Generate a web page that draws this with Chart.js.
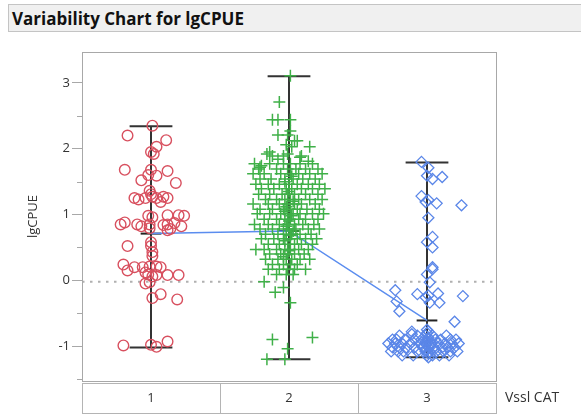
<!DOCTYPE html>
<html>
<head>
<meta charset="utf-8">
<script src="https://cdn.jsdelivr.net/npm/chart.js@4"></script>
<style>
  body { margin: 0; background: #fff; }
  #wrap { position: relative; width: 581px; height: 416px; }
  #head {
    position: absolute; left: 8px; top: 4px; width: 580px; height: 28px;
    background: #f0f0f0; border: 1px solid #c4c4c4; border-right: none;
    font: bold 17px "Open Sans", sans-serif; line-height: 27px;
    padding-left: 3px; box-sizing: border-box; color: #111; z-index: 2;
  }
  canvas { position: absolute; left: 0; top: 0; }
</style>
</head>
<body>
<div id="wrap">
  <div id="head">Variability Chart for lgCPUE</div>
  <canvas id="chart" width="581" height="416"></canvas>
</div>
<script>
// categories of Vssl CAT
const cats = [1, 2, 3]
const catLabels = ['1', '2', '3']
const yTicks = [-1, 0, 1, 2, 3]
const yMinor = [-1.5, -0.5, 0.5, 1.5, 2.5]

// summary
const means = [0.71, 0.75, -0.61]
const mins = [-1.02, -1.20, -1.17]
const maxs = [2.34, 3.10, 1.79]
const refLine = -0.02

// jittered points [x, lgCPUE]
const cat1 = [
  [1.01,2.35],[0.83,2.20],[1.11,2.13],[1.04,2.03],[1.00,1.95],[1.02,1.92],[0.81,1.68],[1.00,1.68],[1.12,1.66],
  [0.98,1.60],[1.04,1.59],[0.93,1.52],[1.18,1.48],[0.99,1.36],[1.00,1.31],[0.88,1.25],[0.91,1.23],[0.96,1.25],
  [1.01,1.27],[1.04,1.25],[1.09,1.27],[1.12,1.25],[1.07,1.19],[0.98,0.98],[1.01,0.96],[1.12,0.99],[1.20,0.99],
  [1.24,0.98],[0.81,0.88],[0.78,0.85],[0.90,0.85],[0.93,0.82],[0.99,0.85],[1.09,0.84],[1.12,0.85],[1.17,0.87],
  [1.22,0.82],[1.12,0.76],[1.14,0.78],[0.99,0.79],[0.83,0.52],[1.00,0.52],[1.00,0.58],[1.01,0.43],[1.01,0.37],
  [0.80,0.24],[0.83,0.15],[0.88,0.20],[0.94,0.20],[0.99,0.21],[1.04,0.21],[1.07,0.20],[0.96,0.12],[0.98,0.09],
  [1.01,0.06],[1.04,0.08],[1.12,0.08],[1.20,0.08],[0.96,-0.05],[0.99,-0.03],[1.07,-0.21],[1.01,-0.27],[1.19,-0.29],
  [0.80,-0.99],[1.00,-0.98],[1.04,-1.01],[1.12,-0.93]
]

const cat2 = [
  [2.01,3.11],[1.93,2.71],[1.88,2.44],[1.92,2.44],[2.01,2.44],[1.92,2.21],[1.99,2.21],[2.01,2.27],[2.04,2.12],
  [2.06,2.12],[2.15,2.03],[1.98,2.06],[2.02,2.03],[1.86,1.95],[1.84,1.92],[1.88,1.89],[1.96,1.89],[1.99,1.92],
  [2.08,1.87],[2.09,1.89],[1.92,1.84],[2.14,1.81],[1.80,1.74],[1.79,1.72],[2.01,1.77],
  [1.75,1.77],[1.86,1.77],[1.96,1.77],[2.08,1.77],[2.17,1.77],
  [1.78,1.69],[1.91,1.69],[1.99,1.69],[2.05,1.69],[2.12,1.69],[2.21,1.69],
  [1.74,1.62],[1.82,1.62],[1.94,1.62],[2.01,1.62],[2.07,1.62],[2.15,1.62],[2.24,1.62],
  [1.79,1.54],[1.87,1.54],[1.97,1.54],[2.03,1.54],[2.10,1.54],[2.19,1.54],
  [1.76,1.46],[1.85,1.46],[1.93,1.46],[2.00,1.46],[2.06,1.46],[2.14,1.46],[2.22,1.46],
  [1.80,1.39],[1.89,1.39],[1.98,1.39],[2.02,1.39],[2.09,1.39],[2.17,1.39],[2.26,1.39],
  [1.78,1.31],[1.86,1.31],[1.95,1.31],[1.99,1.31],[2.04,1.31],[2.12,1.31],[2.21,1.31],
  [1.83,1.23],[1.91,1.23],[1.97,1.23],[2.01,1.23],[2.07,1.23],[2.15,1.23],[2.24,1.23],
  [1.74,1.16],[1.85,1.16],[1.93,1.16],[1.99,1.16],[2.04,1.16],[2.09,1.16],[2.19,1.16],
  [1.79,1.08],[1.88,1.08],[1.96,1.08],[2.01,1.08],[2.06,1.08],[2.13,1.08],[2.22,1.08],
  [1.77,1.01],[1.86,1.01],[1.94,1.01],[1.99,1.01],[2.03,1.01],[2.08,1.01],[2.17,1.01],[2.25,1.01],
  [1.82,0.93],[1.91,0.93],[1.97,0.93],[2.01,0.93],[2.07,0.93],[2.12,0.93],[2.21,0.93],
  [1.75,0.85],[1.85,0.85],[1.93,0.85],[1.99,0.85],[2.04,0.85],[2.10,0.85],[2.18,0.85],
  [1.79,0.78],[1.88,0.78],[1.96,0.78],[2.00,0.78],[2.05,0.78],[2.14,0.78],[2.22,0.78],
  [1.83,0.70],[1.92,0.70],[1.98,0.70],[2.02,0.70],[2.08,0.70],[2.16,0.70],
  [1.80,0.63],[1.89,0.63],[1.96,0.63],[2.01,0.63],[2.06,0.63],[2.12,0.63],[2.20,0.63],
  [1.85,0.55],[1.93,0.55],[1.99,0.55],[2.04,0.55],[2.09,0.55],[2.17,0.55],
  [1.76,0.47],[1.82,0.47],[1.91,0.47],[1.97,0.47],[2.01,0.47],[2.07,0.47],[2.14,0.47],
  [1.86,0.40],[1.94,0.40],[1.99,0.40],[2.04,0.40],[2.11,0.40],
  [1.83,0.32],[1.92,0.32],[1.98,0.32],[2.02,0.32],[2.08,0.32],[2.15,0.32],
  [1.88,0.24],[1.96,0.24],[2.01,0.24],[2.06,0.24],
  [1.85,0.17],[1.93,0.17],[1.99,0.17],[2.04,0.17],[2.12,0.17],
  [1.91,0.09],[1.98,0.09],[2.03,0.09],
  [1.97,1.50],[2.00,1.35],[2.03,1.20],[1.97,1.05],[2.00,0.90],[2.03,0.75],[1.97,0.60],[2.00,0.45],
  [2.02,1.58],[1.98,1.12],[2.02,0.98],[1.98,0.82],[2.01,0.68],[1.96,0.36],
  [1.82,-0.02],[1.90,-0.18],[1.96,-0.11],[2.01,-0.34],[1.88,-0.90],[2.17,-0.87],[1.99,-1.04],[1.84,-1.20],[1.97,-1.20]
]

const cat3 = [
  [2.96,1.80],[3.01,1.71],[3.00,1.59],[3.04,1.54],[3.11,1.57],[2.96,1.28],[2.99,1.19],[3.01,1.22],[3.07,1.17],
  [3.25,1.14],[3.01,0.95],[3.00,0.58],[3.04,0.66],[3.04,0.50],[3.04,0.20],[3.00,0.09],[3.04,0.17],[3.02,-0.03],
  [2.77,-0.15],[2.78,-0.32],[2.80,-0.47],[2.93,-0.21],[2.99,-0.26],[3.01,-0.23],[3.08,-0.20],[3.09,-0.34],
  [3.02,-0.34],[3.26,-0.24],[3.20,-0.63],[2.89,-0.82],
  [2.89,-0.78],[3.01,-0.78],
  [2.80,-0.84],[2.93,-0.84],[2.99,-0.84],[3.04,-0.84],[3.14,-0.84],
  [2.75,-0.90],[2.78,-0.90],[2.84,-0.90],[2.91,-0.90],[2.96,-0.90],[3.01,-0.90],[3.06,-0.90],[3.10,-0.90],[3.17,-0.90],[3.21,-0.90],
  [2.72,-0.96],[2.77,-0.96],[2.82,-0.96],[2.88,-0.96],[2.95,-0.96],[2.99,-0.96],[3.03,-0.96],[3.08,-0.96],[3.13,-0.96],[3.18,-0.96],[3.23,-0.96],
  [2.75,-1.02],[2.80,-1.02],[2.85,-1.02],[2.91,-1.02],[2.97,-1.02],[3.01,-1.02],[3.05,-1.02],[3.11,-1.02],[3.15,-1.02],[3.20,-1.02],
  [2.74,-1.08],[2.79,-1.08],[2.83,-1.08],[2.93,-1.08],[2.99,-1.08],[3.02,-1.08],[3.07,-1.08],[3.12,-1.08],[3.17,-1.08],[3.22,-1.08],
  [2.82,-1.14],[2.90,-1.14],[3.00,-1.14],[3.04,-1.14],[3.09,-1.14],[3.16,-1.14],
  [3.01,-1.17],
  [3.00,-0.80],[3.01,-0.87],[2.99,-0.93],[3.02,-0.99],[2.99,-1.05],[3.01,-1.11],[3.00,-0.75],[3.03,-0.95],[2.97,-1.00],[3.04,-1.04]
]

const FONT = '"Open Sans", "DejaVu Sans", sans-serif'
const toXY = arr => arr.map(p => ({ x: p[0], y: p[1] }))

// short black segments for range bars and mean ticks
function seg(x1, y1, x2, y2, color, width) {
  return {
    type: 'line',
    data: [{ x: x1, y: y1 }, { x: x2, y: y2 }],
    borderColor: color,
    borderWidth: width,
    pointRadius: 0,
    fill: false
  }
}

const barSets = []
cats.forEach((c, i) => {
  barSets.push(seg(c, mins[i], c, maxs[i], '#333', 2))
  barSets.push(seg(c - 0.155, maxs[i], c + 0.155, maxs[i], '#333', 2))
  barSets.push(seg(c - 0.155, mins[i], c + 0.155, mins[i], '#333', 2))
  barSets.push(seg(c - 0.075, means[i], c + 0.075, means[i], '#222', 2))
})

const datasets = [
  {
    type: 'scatter', data: toXY(cat1), pointStyle: 'circle', pointRadius: 5.3,
    borderColor: '#d8505f', backgroundColor: 'rgba(0,0,0,0)', borderWidth: 1.4
  },
  {
    type: 'scatter', data: toXY(cat2), pointStyle: 'cross', pointRadius: 6,
    borderColor: '#3fb048', backgroundColor: '#3fb048', borderWidth: 1.5
  },
  {
    type: 'scatter', data: toXY(cat3), pointStyle: 'rectRot', pointRadius: 5.5,
    borderColor: '#5a86e8', backgroundColor: 'rgba(0,0,0,0)', borderWidth: 1.3
  },
  {
    type: 'line', data: cats.map((c, i) => ({ x: c, y: means[i] })),
    borderColor: '#5b8def', borderWidth: 1.5, pointRadius: 0, fill: false
  },
  ...barSets,
  {
    type: 'line', data: [{ x: 0.5, y: refLine }, { x: 3.5, y: refLine }],
    borderColor: '#b0b0b0', borderWidth: 2, borderDash: [2.5, 5.5], pointRadius: 0
  }
]

// frame, minor ticks and the category table under the plot
const framePlugin = {
  id: 'frame',
  afterDraw(chart) {
    const { ctx, chartArea: a, scales } = chart
    const xs = scales.x, ys = scales.y
    ctx.save()
    ctx.strokeStyle = '#a8a8a8'
    ctx.lineWidth = 1
    ctx.strokeRect(a.left + 0.5, a.top + 0.5, a.right - a.left, a.bottom - a.top)

    yMinor.forEach(v => {
      const py = Math.round(ys.getPixelForValue(v)) + 0.5
      ctx.beginPath()
      ctx.moveTo(a.left - 5, py)
      ctx.lineTo(a.left, py)
      ctx.stroke()
    })

    const top = a.bottom + 2.5, bot = a.bottom + 32.5
    ctx.strokeStyle = '#b4b4b4'
    ctx.strokeRect(a.left + 0.5, top, a.right - a.left, bot - top)
    ;[1.5, 2.5].forEach(v => {
      const px = Math.round(xs.getPixelForValue(v)) + 0.5
      ctx.beginPath()
      ctx.moveTo(px, top)
      ctx.lineTo(px, bot)
      ctx.stroke()
    })

    ctx.fillStyle = '#333'
    ctx.font = '13px ' + FONT
    ctx.textAlign = 'center'
    ctx.textBaseline = 'middle'
    cats.forEach((c, i) => {
      ctx.fillText(catLabels[i], xs.getPixelForValue(c), (top + bot) / 2)
    })
    ctx.textAlign = 'left'
    ctx.font = '14px ' + FONT
    ctx.fillText('Vssl CAT', a.right + 9, (top + bot) / 2)
    ctx.restore()
  }
}

const chart = new Chart(document.getElementById('chart'), {
  type: 'scatter',
  data: { datasets: datasets },
  options: {
    responsive: false,
    animation: false,
    layout: { padding: { top: 52, right: 85, bottom: 35, left: 0 } },
    plugins: { legend: { display: false }, tooltip: { enabled: false } },
    scales: {
      x: { type: 'linear', min: 0.5, max: 3.5, display: false },
      y: {
        type: 'linear', min: -1.53, max: 3.47,
        afterBuildTicks: s => { s.ticks = yTicks.map(v => ({ value: v })) },
        afterFit: s => { s.width = 82 },
        grid: { drawOnChartArea: false, tickLength: 10, color: '#a8a8a8' },
        border: { color: '#a8a8a8' },
        ticks: { padding: 2, color: '#333', font: { size: 13, family: FONT } },
        title: {
          display: true, text: 'lgCPUE', color: '#333',
          font: { size: 13, family: FONT }, padding: { top: 25, bottom: 0 }
        }
      }
    }
  },
  plugins: [framePlugin]
})
</script>
</body>
</html>
